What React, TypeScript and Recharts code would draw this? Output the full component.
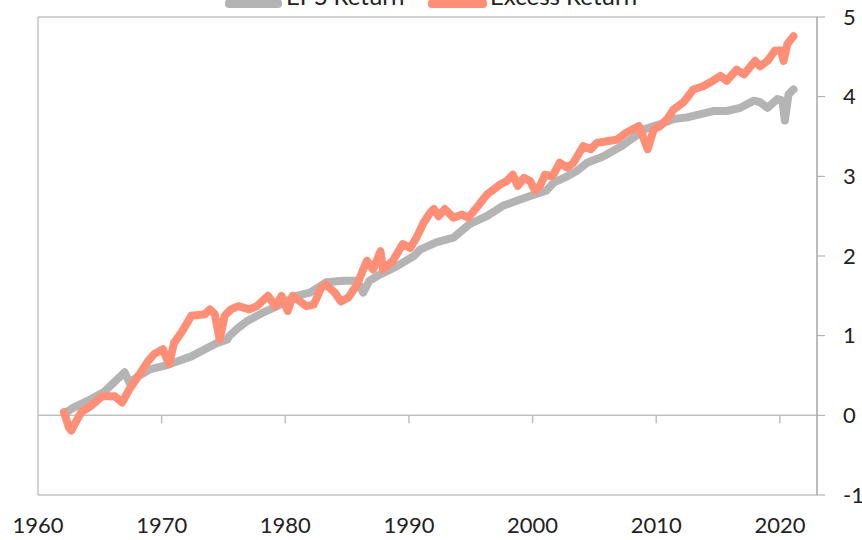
import React from "react";
import { LineChart, Line, XAxis, YAxis, ReferenceLine, ReferenceArea } from "recharts";

const epsYears = [1962.2,1962.9,1964.0,1965.4,1966.4,1967.0,1967.4,1968.1,1969.1,1970.2,1971.3,1972.4,1973.5,1974.5,1975.3,1975.5,1976.2,1976.9,1978.2,1979.6,1980.9,1982.0,1983.3,1984.7,1985.8,1986.3,1986.8,1987.7,1989.0,1990.4,1990.9,1992.2,1993.6,1994.9,1996.3,1997.6,1999.0,2000.1,2001.1,2001.7,2002.8,2003.6,2004.4,2005.7,2007.1,2008.2,2009.0,2009.8,2010.6,2011.4,2012.5,2013.6,2014.6,2015.7,2016.8,2017.9,2018.4,2019.0,2019.8,2020.2,2020.4,2020.7,2021.1];
const epsValues = [0.03,0.10,0.18,0.30,0.45,0.54,0.41,0.49,0.58,0.62,0.68,0.74,0.83,0.91,0.95,1.00,1.10,1.18,1.29,1.39,1.50,1.54,1.67,1.69,1.69,1.54,1.69,1.77,1.87,2.00,2.08,2.17,2.23,2.40,2.50,2.63,2.71,2.77,2.82,2.92,3.00,3.07,3.17,3.25,3.37,3.49,3.59,3.63,3.67,3.72,3.74,3.78,3.82,3.82,3.86,3.95,3.93,3.86,3.97,3.95,3.70,4.03,4.09];

const excessYears = [1962.1,1962.5,1962.7,1962.9,1963.5,1964.3,1965.2,1966.2,1966.8,1967.4,1968.1,1968.9,1969.4,1970.1,1970.6,1971.0,1971.6,1972.4,1973.5,1973.9,1974.3,1974.7,1975.1,1975.6,1976.2,1977.1,1977.7,1978.6,1979.2,1979.7,1980.2,1980.6,1981.7,1982.3,1982.9,1983.3,1984.0,1984.5,1985.1,1985.8,1986.3,1986.6,1987.1,1987.7,1987.9,1988.7,1989.5,1990.1,1990.6,1991.2,1991.7,1992.0,1992.4,1992.9,1993.6,1994.3,1994.8,1995.6,1996.3,1997.4,1997.9,1998.4,1998.8,1999.3,1999.8,2000.2,2000.6,2001.0,2001.6,2002.2,2002.8,2003.3,2004.1,2004.7,2005.2,2006.0,2006.8,2007.6,2008.6,2008.9,2009.3,2009.8,2010.3,2010.9,2011.4,2012.2,2013.0,2013.8,2014.6,2015.2,2015.7,2016.5,2017.1,2018.0,2018.4,2019.0,2019.6,2020.1,2020.3,2020.6,2021.1];
const excessValues = [0.04,-0.15,-0.19,-0.13,0.04,0.12,0.24,0.24,0.16,0.33,0.49,0.68,0.77,0.83,0.64,0.91,1.04,1.25,1.27,1.33,1.27,0.95,1.25,1.33,1.37,1.33,1.37,1.50,1.37,1.50,1.31,1.50,1.37,1.39,1.60,1.64,1.54,1.43,1.48,1.64,1.83,1.94,1.83,2.06,1.83,1.94,2.15,2.10,2.23,2.42,2.54,2.59,2.50,2.59,2.48,2.52,2.48,2.63,2.77,2.90,2.94,3.02,2.88,2.98,2.94,2.82,2.88,3.02,3.00,3.17,3.11,3.17,3.38,3.34,3.42,3.44,3.46,3.55,3.63,3.51,3.34,3.59,3.63,3.72,3.84,3.93,4.09,4.13,4.20,4.26,4.20,4.34,4.28,4.45,4.38,4.45,4.58,4.58,4.45,4.66,4.76];

const xTicks = [1960, 1970, 1980, 1990, 2000, 2010, 2020];
const yTicks = [-1, 0, 1, 2, 3, 4, 5];
const seriesNames = ["EPS Return", "Excess Return"];
const seriesColors = ["#b4b4b4", "#ff8e77"];

const epsData = epsYears.map((y, i) => ({ year: y, value: epsValues[i] }));
const excessData = excessYears.map((y, i) => ({ year: y, value: excessValues[i] }));

const FONT = "Lato, 'Open Sans', sans-serif";

export default function App() {
  return (
    <div style={{ position: "absolute", left: 0, top: -24, width: 862, height: 564 }}>
      <LineChart width={862} height={564} margin={{ top: 41, right: 0, bottom: 0, left: 38 }}>
        <XAxis
          type="number"
          dataKey="year"
          domain={[1960, 2023]}
          ticks={xTicks}
          allowDataOverflow
          axisLine={false}
          tickLine={false}
          height={45}
          tickMargin={16}
          tick={{ fill: "#222", fontSize: 22, fontFamily: FONT }}
        />
        <YAxis
          orientation="right"
          type="number"
          domain={[-1, 5]}
          ticks={yTicks}
          width={45}
          axisLine={{ stroke: "#a6a6a6" }}
          tickLine={{ stroke: "#a6a6a6" }}
          tickSize={8}
          tickMargin={18}
          tick={{ fill: "#222", fontSize: 22, fontFamily: FONT, textAnchor: "start" }}
        />
        <ReferenceArea x1={1960} x2={2023} y1={-1} y2={5} fill="none" stroke="#a6a6a6" strokeWidth={1} />
        <ReferenceLine y={0} stroke="#bfbfbf" strokeWidth={1.5} />
        {xTicks.slice(1).map((t) => (
          <ReferenceLine key={t} segment={[{ x: t, y: 0 }, { x: t, y: -0.1 }]} stroke="#bfbfbf" strokeWidth={1.5} />
        ))}
        <Line
          data={epsData}
          dataKey="value"
          type="linear"
          stroke={seriesColors[0]}
          strokeWidth={8}
          dot={false}
          strokeLinecap="round"
          strokeLinejoin="round"
          isAnimationActive={false}
          name={seriesNames[0]}
        />
        <Line
          data={excessData}
          dataKey="value"
          type="linear"
          stroke={seriesColors[1]}
          strokeWidth={8}
          dot={false}
          strokeLinecap="round"
          strokeLinejoin="round"
          isAnimationActive={false}
          name={seriesNames[1]}
        />
      </LineChart>
      <div style={{ position: "absolute", left: 0, top: 8, width: 862, height: 30, fontFamily: FONT, fontSize: 24, color: "#222" }}>
        <div style={{ position: "absolute", left: 225, top: 15, width: 57, height: 9, borderRadius: 4, background: seriesColors[0] }} />
        <div style={{ position: "absolute", left: 286, top: 0, lineHeight: "24px", whiteSpace: "nowrap" }}>{seriesNames[0]}</div>
        <div style={{ position: "absolute", left: 428, top: 15, width: 59, height: 9, borderRadius: 4, background: seriesColors[1] }} />
        <div style={{ position: "absolute", left: 490, top: 0, lineHeight: "24px", whiteSpace: "nowrap" }}>{seriesNames[1]}</div>
      </div>
    </div>
  );
}
